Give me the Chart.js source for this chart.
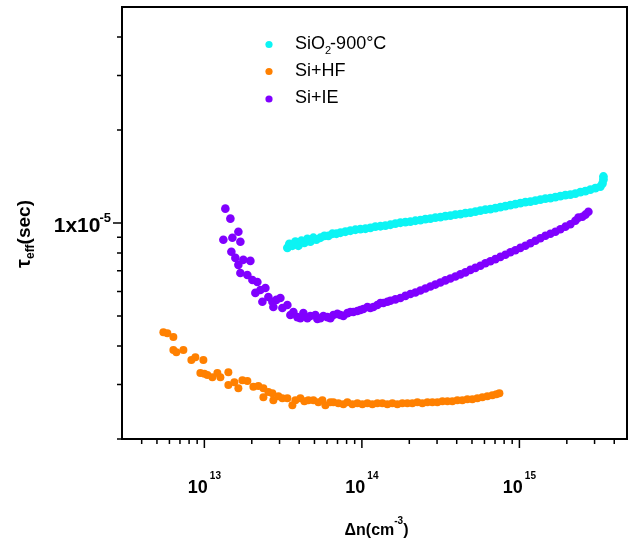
<!DOCTYPE html>
<html>
<head>
<meta charset="utf-8">
<title>Effective lifetime vs injection level</title>
<script src="https://cdn.jsdelivr.net/npm/chart.js@4.4.1/dist/chart.umd.min.js"></script>
<style>
  html, body { margin: 0; padding: 0; background: #fff; }
  #wrap { width: 633px; height: 539px; }
</style>
</head>
<body>
<div id="wrap"><canvas id="lifetimeChart" width="633" height="539"></canvas></div>
<script>
// Series: excess carrier density (cm^-3) vs tau_eff (s)
const sio2X = [3.365e13, 3.465e13, 3.62e13, 3.783e13, 3.953e13, 4.13e13, 4.314e13, 4.507e13, 4.71e13, 4.92e13,
  5.141e13, 5.452e13, 5.779e13, 6.13e13, 6.497e13, 6.889e13, 7.303e13, 7.857e13, 8.453e13, 9.094e13,
  9.783e13, 1.053e14, 1.132e14, 1.218e14, 1.311e14, 1.41e14, 1.517e14, 1.632e14, 1.756e14, 1.889e14,
  2.032e14, 2.186e14, 2.352e14, 2.53e14, 2.722e14, 2.928e14, 3.15e14, 3.389e14, 3.646e14, 3.923e14,
  4.22e14, 4.54e14, 4.884e14, 5.255e14, 5.653e14, 6.082e14, 6.543e14, 7.039e14, 7.573e14, 8.147e14,
  8.765e14, 9.429e14, 1.014e15, 1.091e15, 1.174e15, 1.263e15, 1.359e15, 1.462e15, 1.573e15, 1.692e15,
  1.82e15, 1.958e15, 2.107e15, 2.266e15, 2.438e15, 2.623e15, 2.822e15, 3.036e15, 3.266e15, 3.365e15,
  3.415e15, 3.415e15];
const sio2Y = [8.31e-6, 8.56e-6, 8.44e-6, 8.70e-6, 8.44e-6, 8.76e-6, 8.63e-6, 8.89e-6, 8.70e-6, 8.96e-6,
  8.83e-6, 8.96e-6, 9.09e-6, 9.09e-6, 9.23e-6, 9.23e-6, 9.30e-6, 9.37e-6, 9.44e-6, 9.51e-6,
  9.55e-6, 9.58e-6, 9.65e-6, 9.73e-6, 9.76e-6, 9.80e-6, 9.87e-6, 9.95e-6, 1.002e-5, 1.006e-5,
  1.010e-5, 1.017e-5, 1.021e-5, 1.029e-5, 1.033e-5, 1.041e-5, 1.044e-5, 1.052e-5, 1.056e-5, 1.064e-5,
  1.068e-5, 1.076e-5, 1.080e-5, 1.088e-5, 1.097e-5, 1.105e-5, 1.109e-5, 1.118e-5, 1.126e-5, 1.134e-5,
  1.143e-5, 1.151e-5, 1.160e-5, 1.168e-5, 1.173e-5, 1.181e-5, 1.190e-5, 1.199e-5, 1.204e-5, 1.213e-5,
  1.222e-5, 1.231e-5, 1.236e-5, 1.245e-5, 1.259e-5, 1.269e-5, 1.283e-5, 1.297e-5, 1.312e-5, 1.341e-5,
  1.382e-5, 1.414e-5];

const hfX = [5.492e12, 5.821e12, 6.356e12, 6.356e12, 6.642e12, 7.358e12, 8.27e12, 8.768e12, 9.432e12, 9.855e12,
  1.0e13, 1.045e13, 1.124e13, 1.209e13, 1.264e13, 1.42e13, 1.42e13, 1.55e13, 1.644e13, 1.743e13,
  1.875e13, 2.047e13, 2.202e13, 2.37e13, 2.37e13, 2.549e13, 2.703e13, 2.742e13, 2.95e13, 3.128e13,
  3.365e13, 3.62e13, 3.783e13, 4.07e13, 4.314e13, 4.574e13, 4.92e13, 5.294e13, 5.613e13, 5.866e13,
  6.31e13, 6.592e13, 7.092e13, 7.629e13, 8.09e13, 8.703e13, 9.363e13, 1.007e14, 1.084e14, 1.166e14,
  1.254e14, 1.349e14, 1.452e14, 1.562e14, 1.68e14, 1.807e14, 1.945e14, 2.092e14, 2.251e14, 2.422e14,
  2.606e14, 2.803e14, 3.016e14, 3.245e14, 3.491e14, 3.755e14, 4.04e14, 4.346e14, 4.676e14, 5.03e14,
  5.412e14, 5.822e14, 6.264e14, 6.738e14, 7.145e14, 7.464e14];
const hfY = [4.43e-6, 4.40e-6, 4.28e-6, 3.88e-6, 3.82e-6, 3.88e-6, 3.60e-6, 3.68e-6, 3.27e-6, 3.60e-6,
  3.25e-6, 3.22e-6, 3.17e-6, 3.27e-6, 3.17e-6, 3.29e-6, 2.99e-6, 3.05e-6, 2.92e-6, 3.10e-6,
  3.08e-6, 2.95e-6, 2.97e-6, 2.92e-6, 2.73e-6, 2.84e-6, 2.81e-6, 2.67e-6, 2.75e-6, 2.71e-6,
  2.71e-6, 2.57e-6, 2.67e-6, 2.71e-6, 2.65e-6, 2.67e-6, 2.67e-6, 2.63e-6, 2.67e-6, 2.57e-6,
  2.63e-6, 2.63e-6, 2.61e-6, 2.59e-6, 2.63e-6, 2.59e-6, 2.61e-6, 2.59e-6, 2.61e-6, 2.59e-6,
  2.61e-6, 2.61e-6, 2.59e-6, 2.61e-6, 2.59e-6, 2.61e-6, 2.61e-6, 2.61e-6, 2.63e-6, 2.61e-6,
  2.63e-6, 2.63e-6, 2.63e-6, 2.65e-6, 2.65e-6, 2.65e-6, 2.67e-6, 2.67e-6, 2.69e-6, 2.69e-6,
  2.71e-6, 2.73e-6, 2.75e-6, 2.77e-6, 2.79e-6, 2.81e-6];

const ieX = [1.32e13, 1.359e13, 1.463e13, 1.484e13, 1.506e13, 1.573e13, 1.644e13, 1.644e13, 1.693e13, 1.693e13,
  1.768e13, 1.875e13, 1.959e13, 2.018e13, 2.108e13, 2.17e13, 2.268e13, 2.335e13, 2.44e13, 2.549e13,
  2.703e13, 2.742e13, 2.865e13, 3.038e13, 3.128e13, 3.365e13, 3.516e13, 3.674e13, 3.895e13, 4.07e13,
  4.252e13, 4.507e13, 4.71e13, 5.068e13, 5.216e13, 5.452e13, 5.696e13, 6.04e13, 6.31e13, 6.592e13,
  6.99e13, 7.303e13, 7.629e13, 8.09e13, 8.453e13, 8.831e13, 9.363e13, 9.783e13, 1.022e14, 1.084e14,
  1.132e14, 1.183e14, 1.254e14, 1.311e14, 1.369e14, 1.452e14, 1.517e14, 1.632e14, 1.756e14, 1.889e14,
  2.032e14, 2.186e14, 2.352e14, 2.53e14, 2.722e14, 2.928e14, 3.15e14, 3.389e14, 3.646e14, 3.923e14,
  4.22e14, 4.54e14, 4.884e14, 5.255e14, 5.653e14, 6.082e14, 6.543e14, 7.039e14, 7.573e14, 8.147e14,
  8.765e14, 9.429e14, 1.014e15, 1.091e15, 1.174e15, 1.263e15, 1.359e15, 1.462e15, 1.573e15, 1.692e15,
  1.82e15, 1.958e15, 2.107e15, 2.266e15, 2.369e15, 2.512e15, 2.623e15, 2.742e15];
const ieY = [8.83e-6, 1.113e-5, 1.033e-5, 8.07e-6, 8.96e-6, 7.71e-6, 9.37e-6, 7.32e-6, 8.70e-6, 6.89e-6,
  7.60e-6, 6.79e-6, 7.54e-6, 6.54e-6, 5.94e-6, 6.44e-6, 6.07e-6, 5.56e-6, 6.16e-6, 5.76e-6,
  5.56e-6, 5.35e-6, 5.64e-6, 5.72e-6, 5.31e-6, 5.43e-6, 5.04e-6, 5.15e-6, 4.96e-6, 4.92e-6,
  5.11e-6, 4.92e-6, 5.00e-6, 5.04e-6, 4.89e-6, 4.92e-6, 5.00e-6, 4.96e-6, 4.92e-6, 5.04e-6,
  5.08e-6, 5.04e-6, 5.00e-6, 5.11e-6, 5.15e-6, 5.15e-6, 5.19e-6, 5.23e-6, 5.27e-6, 5.35e-6,
  5.31e-6, 5.35e-6, 5.43e-6, 5.51e-6, 5.51e-6, 5.56e-6, 5.60e-6, 5.66e-6, 5.72e-6, 5.81e-6,
  5.89e-6, 5.96e-6, 6.05e-6, 6.14e-6, 6.23e-6, 6.32e-6, 6.42e-6, 6.52e-6, 6.61e-6, 6.71e-6,
  6.82e-6, 6.92e-6, 7.05e-6, 7.16e-6, 7.27e-6, 7.41e-6, 7.52e-6, 7.64e-6, 7.77e-6, 7.89e-6,
  8.04e-6, 8.16e-6, 8.31e-6, 8.44e-6, 8.60e-6, 8.76e-6, 8.93e-6, 9.09e-6, 9.23e-6, 9.37e-6,
  9.55e-6, 9.73e-6, 9.91e-6, 1.017e-5, 1.041e-5, 1.048e-5, 1.064e-5, 1.088e-5];

// Axis ranges and ticks
const xRange = [3e12, 4.82e15];
const yRange = [2e-6, 5e-5];
const xMajorTicks = [1e13, 1e14, 1e15];
const xMajorExp = ['13', '14', '15'];
const xMinorTicks = [4e12, 5e12, 6e12, 7e12, 8e12, 9e12,
  2e13, 3e13, 4e13, 5e13, 6e13, 7e13, 8e13, 9e13,
  2e14, 3e14, 4e14, 5e14, 6e14, 7e14, 8e14, 9e14,
  2e15, 3e15, 4e15];
const yMajorTicks = [1e-5];
const yMajorExp = ['-5'];
const yMinorTicks = [2e-6, 3e-6, 4e-6, 5e-6, 6e-6, 7e-6, 8e-6, 9e-6, 2e-5, 3e-5, 4e-5];

// Legend entries: [base text, subscript, rest]
const seriesNames = [['SiO', '2', '-900°C'], ['Si+HF', '', ''], ['Si+IE', '', '']];
const seriesColors = ['#0CF4F4', '#FF8000', '#8000FF'];

const FONT = "'Liberation Sans', Arial, sans-serif";

function toPoints(xs, ys) {
    return xs.map((x, i) => ({ x: x, y: ys[i] }));
}

// Draw a run of text pieces: [text, size, dy, extraGap], left to right
function drawPieces(ctx, x, y, pieces, weight) {
    let cx = x;
    pieces.forEach(p => {
        ctx.font = weight + ' ' + p[1] + 'px ' + FONT;
        ctx.fillText(p[0], cx, y + p[2]);
        cx += ctx.measureText(p[0]).width + (p[3] || 0);
    });
    return cx;
}

function piecesWidth(ctx, pieces, weight) {
    let w = 0;
    pieces.forEach(p => {
        ctx.font = weight + ' ' + p[1] + 'px ' + FONT;
        w += ctx.measureText(p[0]).width + (p[3] || 0);
    });
    return w;
}

const framePlugin = {
    id: 'frame',
    afterDraw(chart) {
        const ctx = chart.ctx;
        const a = chart.chartArea;
        const xs = chart.scales.x;
        const ys = chart.scales.y;
        ctx.save();

        // box
        ctx.strokeStyle = '#000';
        ctx.lineWidth = 2;
        ctx.strokeRect(a.left, a.top, a.right - a.left, a.bottom - a.top);

        // tick marks, outward
        ctx.lineWidth = 1.5;
        ctx.beginPath();
        xMinorTicks.forEach(v => {
            const px = xs.getPixelForValue(v);
            ctx.moveTo(px, a.bottom); ctx.lineTo(px, a.bottom + 5);
        });
        xMajorTicks.forEach(v => {
            const px = xs.getPixelForValue(v);
            ctx.moveTo(px, a.bottom); ctx.lineTo(px, a.bottom + 9);
        });
        yMinorTicks.forEach(v => {
            const py = ys.getPixelForValue(v);
            ctx.moveTo(a.left, py); ctx.lineTo(a.left - 5, py);
        });
        yMajorTicks.forEach(v => {
            const py = ys.getPixelForValue(v);
            ctx.moveTo(a.left, py); ctx.lineTo(a.left - 9, py);
        });
        ctx.stroke();

        ctx.fillStyle = '#000';
        ctx.textAlign = 'left';
        ctx.textBaseline = 'alphabetic';

        // x tick labels 10^n
        xMajorTicks.forEach((v, i) => {
            const px = xs.getPixelForValue(v);
            const pieces = [['10', 18, 0, 2], [xMajorExp[i], 10, -14]];
            const w = piecesWidth(ctx, pieces, 'bold');
            drawPieces(ctx, px - w / 2, a.bottom + 54, pieces, 'bold');
        });

        // y tick label 1x10^-5
        yMajorTicks.forEach((v, i) => {
            const py = ys.getPixelForValue(v);
            const pieces = [['1x10', 21, 0, -1], [yMajorExp[i], 13, -10]];
            const w = piecesWidth(ctx, pieces, 'bold');
            drawPieces(ctx, 111 - w, py + 9, pieces, 'bold');
        });

        // x title
        const xt = [['\u0394n(cm', 16, 0], ['-3', 10, -11], [')', 16, 0]];
        const xtw = piecesWidth(ctx, xt, 'bold');
        drawPieces(ctx, (a.left + a.right) / 2 + 2 - xtw / 2, 535, xt, 'bold');

        // y title, rotated
        ctx.save();
        ctx.translate(30, 234);
        ctx.rotate(-Math.PI / 2);
        const yt = [['\u03C4', 20, 0], ['eff', 12, 4], ['(sec)', 19, 0]];
        const ytw = piecesWidth(ctx, yt, 'bold');
        drawPieces(ctx, -ytw / 2, 0, yt, 'bold');
        ctx.restore();

        // legend
        const legendY = [44.5, 71.5, 99];
        seriesNames.forEach((name, i) => {
            ctx.fillStyle = seriesColors[i];
            ctx.beginPath();
            ctx.arc(269, legendY[i], 3.6, 0, Math.PI * 2);
            ctx.fill();
            ctx.fillStyle = '#000';
            const pieces = [[name[0], 18, 0]];
            if (name[1]) pieces.push([name[1], 11, 5, -1]);
            if (name[2]) pieces.push([name[2], 18, 0]);
            drawPieces(ctx, 295, legendY[i] + 4, pieces, 'normal');
        });

        ctx.restore();
    }
};

const datasets = [
    { label: 'SiO2-900°C', data: toPoints(sio2X, sio2Y), backgroundColor: seriesColors[0], pointRadius: 4.4, pointHoverRadius: 4.4 },
    { label: 'Si+HF', data: toPoints(hfX, hfY), backgroundColor: seriesColors[1], pointRadius: 4, pointHoverRadius: 4 },
    { label: 'Si+IE', data: toPoints(ieX, ieY), backgroundColor: seriesColors[2], pointRadius: 4.3, pointHoverRadius: 4.3 }
];

new Chart(document.getElementById('lifetimeChart').getContext('2d'), {
    type: 'scatter',
    data: { datasets: datasets },
    options: {
        responsive: false,
        animation: false,
        devicePixelRatio: 1,
        layout: { padding: { left: 0, right: 6, top: 7, bottom: 0 } },
        elements: { point: { borderWidth: 0 } },
        plugins: { legend: { display: false }, tooltip: { enabled: false } },
        scales: {
            x: {
                type: 'logarithmic', min: xRange[0], max: xRange[1], bounds: 'data',
                grid: { display: false }, border: { display: false }, ticks: { display: false },
                afterFit: s => { s.height = 100; }
            },
            y: {
                type: 'logarithmic', min: yRange[0], max: yRange[1], bounds: 'data',
                grid: { display: false }, border: { display: false }, ticks: { display: false },
                afterFit: s => { s.width = 122; }
            }
        }
    },
    plugins: [framePlugin]
});
</script>
</body>
</html>
